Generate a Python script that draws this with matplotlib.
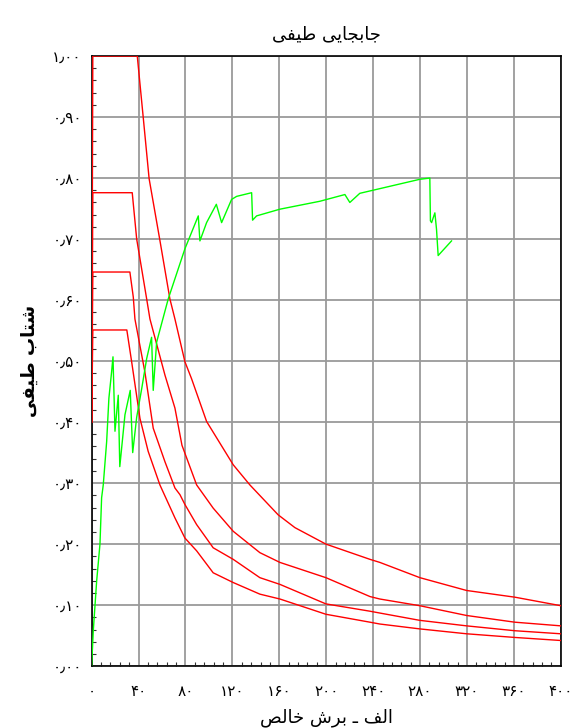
import numpy as np
import matplotlib
matplotlib.use("Agg")
import matplotlib.pyplot as plt
from matplotlib.ticker import MultipleLocator, FixedLocator

title = "جابجایی طیفی"
y_title = "شتاب طیفی"
x_title = "الف ـ برش خالص"

x_ticks = [0, 40, 80, 120, 160, 200, 240, 280, 320, 360, 400]
y_ticks = [0.0, 0.1, 0.2, 0.3, 0.4, 0.5, 0.6, 0.7, 0.8, 0.9, 1.0]

# demand spectra (red)
demand_a_x = [0, 1, 38.9, 44, 49, 58, 66.7, 71, 79.5, 85.2, 98, 120.7, 134.9, 159, 173.3,
              199.7, 237.3, 245.7, 279.8, 319.6, 360.8, 400]
demand_a_y = [0.40, 1.0, 1.0, 0.899, 0.799, 0.700, 0.602, 0.569, 0.499, 0.471, 0.401, 0.330,
              0.297, 0.248, 0.227, 0.200, 0.175, 0.170, 0.145, 0.124, 0.113, 0.099]

demand_b_x = [0, 1, 34.6, 38.4, 46.9, 49.7, 62.5, 71, 77, 89.5, 103.6, 120.7, 143.4,
              160.5, 199.7, 237.3, 245.7, 279.8, 319.6, 360.8, 400]
demand_b_y = [0.40, 0.776, 0.776, 0.700, 0.602, 0.569, 0.477, 0.423, 0.362, 0.297, 0.259,
              0.221, 0.186, 0.170, 0.145, 0.114, 0.110, 0.099, 0.083, 0.072, 0.066]

demand_c_x = [0, 1, 32.6, 35.5, 36.9, 45.4, 52.5, 62.5, 71, 75.3, 79.5, 89.5, 103.6, 120.7,
              143.4, 160.5, 199.7, 237.3, 245.7, 279.8, 319.6, 360.8, 400]
demand_c_y = [0.40, 0.646, 0.646, 0.605, 0.569, 0.482, 0.390, 0.335, 0.292, 0.281, 0.265, 0.232,
              0.194, 0.175, 0.145, 0.134, 0.102, 0.090, 0.087, 0.075, 0.066, 0.058, 0.053]

demand_d_x = [0, 1, 30, 34.1, 41.2, 48.2, 58.2, 71, 79.5, 89.5, 103.6, 120.7, 143.4,
              160.5, 199.7, 237.3, 245.7, 279.8, 319.6, 360.8, 400]
demand_d_y = [0.40, 0.551, 0.551, 0.499, 0.406, 0.352, 0.297, 0.243, 0.210, 0.189, 0.153,
              0.137, 0.118, 0.110, 0.085, 0.072, 0.069, 0.061, 0.053, 0.047, 0.042]

# capacity curve (green)
capacity_x = [0, 1.4, 4.3, 7.1, 8.5, 9.9, 12.8, 14.7, 17, 18.2, 19.9, 22.7, 24, 28.4, 32.9, 35,
              38.4, 42.7, 46.9, 51.1, 52.5, 55.4, 65.3, 79.5, 90.9, 92.3, 98, 106.3, 110.8,
              119.3, 123.6, 136.4, 137.2, 140.6, 160.5, 194.6, 215.9, 220.1, 228.6, 279.8,
              288.3, 288.8, 289.8, 292.6, 294, 295.4, 306.8]
capacity_y = [0.0, 0.058, 0.140, 0.200, 0.276, 0.297, 0.368, 0.439, 0.482, 0.507, 0.385, 0.444,
              0.327, 0.412, 0.452, 0.350, 0.408, 0.455, 0.504, 0.539, 0.452, 0.531, 0.602, 0.684,
              0.738, 0.697, 0.727, 0.757, 0.727, 0.765, 0.770, 0.776, 0.731, 0.738, 0.749, 0.762,
              0.773, 0.760, 0.775, 0.798, 0.800, 0.730, 0.727, 0.743, 0.716, 0.673, 0.697]

# isolated, final, initial, medial presentation forms
FORMS = {
    "ا": ("\ufe8d", "\ufe8e", None, None),
    "ب": ("\ufe8f", "\ufe90", "\ufe91", "\ufe92"),
    "ت": ("\ufe95", "\ufe96", "\ufe97", "\ufe98"),
    "ج": ("\ufe9d", "\ufe9e", "\ufe9f", "\ufea0"),
    "خ": ("\ufea5", "\ufea6", "\ufea7", "\ufea8"),
    "ر": ("\ufead", "\ufeae", None, None),
    "ش": ("\ufeb5", "\ufeb6", "\ufeb7", "\ufeb8"),
    "ص": ("\ufeb9", "\ufeba", "\ufebb", "\ufebc"),
    "ط": ("\ufec1", "\ufec2", "\ufec3", "\ufec4"),
    "ف": ("\ufed1", "\ufed2", "\ufed3", "\ufed4"),
    "ل": ("\ufedd", "\ufede", "\ufedf", "\ufee0"),
    "ی": ("\ufbfc", "\ufbfd", "\ufbfe", "\ufbff"),
}


def persian(text):
    """shape the letters and put them in visual (left to right) order"""
    out = []
    for i, ch in enumerate(text):
        if ch not in FORMS:
            out.append(ch)
            continue
        prev = text[i - 1] if i > 0 else ""
        nxt = text[i + 1] if i + 1 < len(text) else ""
        iso, fin, ini, med = FORMS[ch]
        join_prev = prev in FORMS and FORMS[prev][2] is not None
        join_next = ini is not None and nxt in FORMS
        if join_prev and join_next:
            out.append(med)
        elif join_prev:
            out.append(fin)
        elif join_next:
            out.append(ini)
        else:
            out.append(iso)
    return "".join(out)[::-1]


def fa_num(s):
    return s.translate(str.maketrans("0123456789.", "۰۱۲۳۴۵۶۷۸۹٫"))


fig = plt.figure(figsize=(5.8, 7.28), dpi=100)
ax = fig.add_axes([0.158, 0.085, 0.809, 0.838])

red = "#ff0000"
for xs, ys in [(demand_a_x, demand_a_y), (demand_b_x, demand_b_y),
               (demand_c_x, demand_c_y), (demand_d_x, demand_d_y)]:
    ax.plot(xs, ys, color=red, lw=1.0, zorder=3)
ax.plot(capacity_x, capacity_y, color="#00ff00", lw=1.0, zorder=4)

ax.set_xlim(0, 400)
ax.set_ylim(0, 1.0)
ax.xaxis.set_major_locator(FixedLocator(x_ticks))
ax.yaxis.set_major_locator(FixedLocator(y_ticks))
ax.xaxis.set_minor_locator(MultipleLocator(8))
ax.yaxis.set_minor_locator(MultipleLocator(0.02))
ax.set_xticklabels([fa_num(str(v)) for v in x_ticks])
ax.set_yticklabels([fa_num(f"{v:.2f}") for v in y_ticks])

ax.grid(True, which="major", color="#9a9a9a", lw=1.3, zorder=1)
ax.set_axisbelow(True)
ax.tick_params(which="both", direction="in", top=False, right=False, color="#333333")
ax.tick_params(which="major", length=0)
ax.tick_params(axis="x", which="major", pad=13, labelsize=11)
ax.tick_params(axis="y", which="major", pad=7, labelsize=11)
ax.tick_params(which="minor", length=3, width=0.8)
for sp in ax.spines.values():
    sp.set_color("black")
    sp.set_linewidth(1.2)

ax.set_title(persian(title), fontsize=13, pad=12)
ax.set_ylabel(persian(y_title), fontsize=13, fontweight="bold", labelpad=10)
ax.set_xlabel(persian(x_title), fontsize=13, labelpad=7)

fig.savefig("out.png", dpi=100)
